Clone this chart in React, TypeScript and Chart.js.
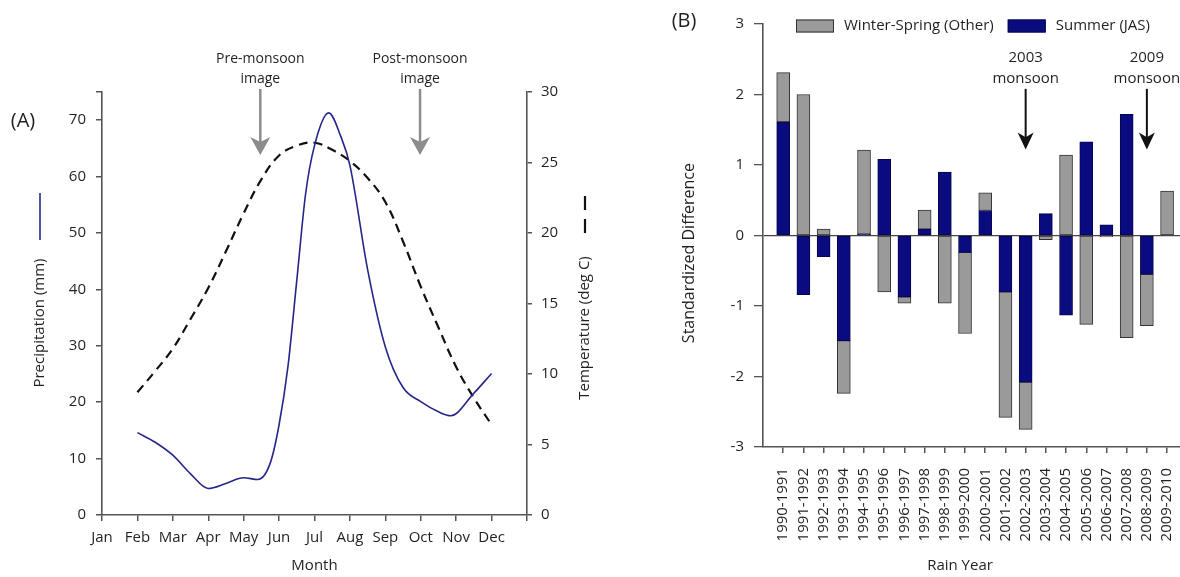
import React, { useEffect, useRef } from 'react';
import { Chart, registerables } from 'chart.js';

Chart.register(...registerables);

// ---------- Panel A data ----------
const MONTHS = ['Jan', 'Feb', 'Mar', 'Apr', 'May', 'Jun', 'Jul', 'Aug', 'Sep', 'Oct', 'Nov', 'Dec'];
// month position (0 = Jan) and precipitation (mm)
const PRECIP_MONTH = [1, 1.5, 2, 2.5, 3, 3.5, 4, 4.4, 4.75, 5, 5.25, 5.5, 5.75, 6, 6.4, 6.75, 7, 7.5, 8, 8.5, 9, 9.5, 9.85, 10.5, 11];
const PRECIP_MM = [14.6, 12.9, 10.6, 7.3, 4.7, 5.6, 6.6, 6.3, 9.2, 16, 26.3, 41.6, 57, 65.5, 71.3, 67, 62, 43.5, 29.8, 22.6, 20.1, 18.3, 17.6, 21.6, 25.1];
// month position and temperature (deg C)
const TEMP_MONTH = [1, 1.5, 2, 2.5, 3, 3.5, 4, 4.5, 5, 5.5, 6, 6.5, 7, 7.5, 8, 8.5, 9, 9.5, 10, 10.5, 11];
const TEMP_C = [8.7, 10.2, 11.8, 13.9, 16.1, 18.7, 21.4, 23.8, 25.5, 26.2, 26.4, 25.9, 25.1, 23.9, 22.2, 19.4, 16.2, 13.3, 10.5, 8.3, 6.4];
const PRECIP_TICKS_MAX = 75;
const TEMP_TICKS_MAX = 30;
const PRECIP_TITLE = 'Precipitation (mm)';
const TEMP_TITLE = 'Temperature (deg C)';
const MONTH_TITLE = 'Month';
const IMAGE_MARKERS = [
  { month: 4.47, lines: ['Pre-monsoon', 'image'] },
  { month: 8.98, lines: ['Post-monsoon', 'image'] },
];

// ---------- Panel B data ----------
const RAIN_YEARS = [
  '1990-1991', '1991-1992', '1992-1993', '1993-1994', '1994-1995', '1995-1996', '1996-1997',
  '1997-1998', '1998-1999', '1999-2000', '2000-2001', '2001-2002', '2002-2003', '2003-2004',
  '2004-2005', '2005-2006', '2006-2007', '2007-2008', '2008-2009', '2009-2010',
];
const SUMMER_JAS = [1.61, -0.84, -0.30, -1.49, 0.02, 1.08, -0.87, 0.09, 0.90, -0.24, 0.355, -0.80, -2.08, 0.31, -1.13, 1.33, 0.15, 1.72, -0.55, 0];
const WINTER_SPRING = [0.70, 2.00, 0.09, -0.75, 1.19, -0.80, -0.09, 0.27, -0.96, -1.15, 0.25, -1.78, -0.67, -0.06, 1.14, -1.26, -0.02, -1.45, -0.73, 0.63];
const SUMMER_LABEL = 'Summer (JAS)';
const WINTER_LABEL = 'Winter-Spring (Other)';
const STD_TITLE = 'Standardized Difference';
const YEAR_TITLE = 'Rain Year';
const MONSOON_MARKERS = [
  { index: 12, lines: ['2003', 'monsoon'] },
  { index: 18, lines: ['2009', 'monsoon'] },
];

// ---------- styles ----------
const FONT = '"Open Sans", "Noto Sans", sans-serif';
const TEXT = '#231f20';
const AXIS = '#555555';
const NAVY_LINE = '#26268a';
const NAVY_BAR = '#0b0b80';
const GREY_BAR = '#9a9a9a';

Chart.defaults.font.family = FONT;

function drawArrow(ctx: any, x: number, y0: number, y1: number, color: string, w: number, half: number, len: number) {
  ctx.save();
  ctx.strokeStyle = color;
  ctx.fillStyle = color;
  ctx.lineWidth = w;
  ctx.beginPath();
  ctx.moveTo(x, y0);
  ctx.lineTo(x, y1 - len * 0.6);
  ctx.stroke();
  ctx.beginPath();
  ctx.moveTo(x - half, y1 - len);
  ctx.lineTo(x, y1 - len * 0.72);
  ctx.lineTo(x + half, y1 - len);
  ctx.lineTo(x, y1);
  ctx.closePath();
  ctx.fill();
  ctx.restore();
}

function rotatedText(ctx: any, text: string, x: number, y: number) {
  ctx.save();
  ctx.translate(x, y);
  ctx.rotate(-Math.PI / 2);
  ctx.fillText(text, 0, 0);
  ctx.restore();
}

const zeroPad = (s: any) => {
  s.paddingLeft = 0;
  s.paddingRight = 0;
  s.paddingTop = 0;
  s.paddingBottom = 0;
};

const decorA = {
  id: 'decorA',
  afterDraw(chart: any) {
    const { ctx, scales } = chart;
    const x = scales.x;
    const yP = scales.yP;
    ctx.save();
    ctx.fillStyle = TEXT;
    ctx.textAlign = 'center';
    ctx.textBaseline = 'middle';
    ctx.font = `20px ${FONT}`;
    ctx.fillText('(A)', 23, yP.getPixelForValue(70) + 1);

    ctx.font = `15px ${FONT}`;
    rotatedText(ctx, PRECIP_TITLE, 40, 323);
    ctx.strokeStyle = NAVY_LINE;
    ctx.lineWidth = 1.6;
    ctx.beginPath();
    ctx.moveTo(40, 240);
    ctx.lineTo(40, 193);
    ctx.stroke();

    rotatedText(ctx, TEMP_TITLE, 585, 328);
    ctx.strokeStyle = '#111';
    ctx.lineWidth = 2.2;
    ctx.setLineDash([14, 9]);
    ctx.beginPath();
    ctx.moveTo(585, 233);
    ctx.lineTo(585, 195);
    ctx.stroke();
    ctx.setLineDash([]);

    ctx.textAlign = 'center';
    ctx.textBaseline = 'middle';
    ctx.font = `14px ${FONT}`;
    for (const m of IMAGE_MARKERS) {
      const px = x.getPixelForValue(m.month);
      ctx.fillStyle = TEXT;
      ctx.fillText(m.lines[0], px, 59);
      ctx.fillText(m.lines[1], px, 79);
      drawArrow(ctx, px, 89, 155, '#8c8c8c', 2.5, 10, 18);
    }
    ctx.restore();
  },
};

const decorB = {
  id: 'decorB',
  afterDraw(chart: any) {
    const { ctx, scales, data } = chart;
    const x = scales.x;
    const y = scales.y;
    ctx.save();
    ctx.fillStyle = TEXT;
    ctx.textAlign = 'center';
    ctx.textBaseline = 'middle';
    ctx.font = `20px ${FONT}`;
    ctx.fillText('(B)', 64, 21);

    ctx.font = `16px ${FONT}`;
    rotatedText(ctx, STD_TITLE, 69, y.getPixelForValue(-0.25));
    ctx.font = `15px ${FONT}`;
    ctx.fillText(YEAR_TITLE, 340, 566);

    // legend: winter-spring first, then summer
    const order = [1, 0];
    let lx = 176;
    const ly = 26;
    ctx.font = `15px ${FONT}`;
    ctx.textAlign = 'left';
    for (const i of order) {
      const ds = data.datasets[i];
      ctx.fillStyle = ds.backgroundColor;
      ctx.fillRect(lx, ly - 6.5, 38, 13);
      ctx.strokeStyle = ds.borderColor;
      ctx.lineWidth = 1;
      ctx.strokeRect(lx + 0.5, ly - 6, 37, 12);
      ctx.fillStyle = TEXT;
      ctx.fillText(ds.label, lx + 48, ly);
      lx += 48 + ctx.measureText(ds.label).width + 14;
    }

    ctx.textAlign = 'center';
    ctx.font = `15px ${FONT}`;
    for (const m of MONSOON_MARKERS) {
      const px = x.getPixelForValue(m.index);
      ctx.fillStyle = TEXT;
      ctx.fillText(m.lines[0], px, y.getPixelForValue(2.52));
      ctx.fillText(m.lines[1], px, y.getPixelForValue(2.22));
      drawArrow(ctx, px, y.getPixelForValue(2.08), y.getPixelForValue(1.22), '#111', 2, 8, 17);
    }
    ctx.restore();
  },
};

function makeA(canvas: HTMLCanvasElement) {
  const tickFont = { family: FONT, size: 15 };
  return new Chart(canvas, {
    type: 'line',
    data: {
      datasets: [
        {
          label: PRECIP_TITLE,
          data: PRECIP_MONTH.map((m, i) => ({ x: m, y: PRECIP_MM[i] })),
          yAxisID: 'yP',
          borderColor: NAVY_LINE,
          borderWidth: 1.6,
          pointRadius: 0,
          cubicInterpolationMode: 'monotone',
          fill: false,
        },
        {
          label: TEMP_TITLE,
          data: TEMP_MONTH.map((m, i) => ({ x: m, y: TEMP_C[i] })),
          yAxisID: 'yT',
          borderColor: '#111111',
          borderWidth: 2.2,
          borderDash: [9, 6],
          pointRadius: 0,
          tension: 0.4,
          fill: false,
        },
      ],
    } as any,
    options: {
      responsive: false,
      animation: false,
      layout: { padding: { top: 92, left: 0, right: 0, bottom: 0 } },
      plugins: { legend: { display: false }, tooltip: { enabled: false } },
      scales: {
        x: {
          type: 'linear',
          min: 0,
          max: 12,
          ticks: {
            stepSize: 1,
            autoSkip: false,
            maxRotation: 0,
            minRotation: 0,
            padding: 8,
            color: TEXT,
            font: tickFont,
            callback: (v: any) => MONTHS[v] ?? '',
          },
          grid: { drawOnChartArea: false, tickLength: 6, color: AXIS, lineWidth: 1.5 },
          border: { color: AXIS, width: 1.6 },
          title: { display: true, text: MONTH_TITLE, color: TEXT, font: { family: FONT, size: 15 }, padding: { top: 0, bottom: 2 } },
          afterFit: (s: any) => { s.height = 62; zeroPad(s); },
        },
        yP: {
          type: 'linear',
          position: 'left',
          min: 0,
          max: PRECIP_TICKS_MAX,
          ticks: {
            stepSize: 10,
            padding: 10,
            color: TEXT,
            font: tickFont,
            callback: (v: any) => (v === PRECIP_TICKS_MAX ? '' : String(v)),
          },
          grid: { drawOnChartArea: false, tickLength: 6, color: AXIS, lineWidth: 1.5 },
          border: { color: AXIS, width: 1.6 },
          afterFit: (s: any) => { s.width = 102; zeroPad(s); },
        },
        yT: {
          type: 'linear',
          position: 'right',
          min: 0,
          max: TEMP_TICKS_MAX,
          ticks: { stepSize: 5, padding: 9, color: TEXT, font: tickFont, callback: (v: any) => String(v) },
          grid: { drawOnChartArea: false, tickLength: 5, color: AXIS, lineWidth: 1.5 },
          border: { color: AXIS, width: 1.6 },
          afterFit: (s: any) => { s.width = 93; zeroPad(s); },
        },
      },
    } as any,
    plugins: [decorA],
  });
}

function makeB(canvas: HTMLCanvasElement) {
  const tickFont = { family: FONT, size: 15 };
  return new Chart(canvas, {
    type: 'bar',
    data: {
      datasets: [
        {
          label: SUMMER_LABEL,
          data: RAIN_YEARS.map((_, i) => ({ x: i, y: SUMMER_JAS[i] })),
          backgroundColor: NAVY_BAR,
          borderColor: '#06064f',
          borderWidth: 1,
          borderSkipped: false,
          barThickness: 13,
        },
        {
          label: WINTER_LABEL,
          data: RAIN_YEARS.map((_, i) => ({ x: i, y: WINTER_SPRING[i] })),
          backgroundColor: GREY_BAR,
          borderColor: '#333333',
          borderWidth: 1,
          borderSkipped: false,
          barThickness: 13,
        },
      ],
    } as any,
    options: {
      responsive: false,
      animation: false,
      layout: { padding: { top: 24, left: 0, right: 0, bottom: 0 } },
      plugins: { legend: { display: false }, tooltip: { enabled: false } },
      scales: {
        x: {
          type: 'linear',
          min: -1,
          max: 19.64,
          offset: false,
          stacked: true,
          afterBuildTicks: (s: any) => { s.ticks = RAIN_YEARS.map((_, i) => ({ value: i })); },
          ticks: {
            autoSkip: false,
            maxRotation: 90,
            minRotation: 90,
            padding: 15,
            color: TEXT,
            font: tickFont,
            callback: (v: any) => RAIN_YEARS[v] ?? '',
          },
          grid: { offset: false, drawOnChartArea: false, tickLength: 6, color: AXIS, lineWidth: 1.5 },
          border: { color: AXIS, width: 1.6 },
          afterFit: (s: any) => { s.height = 130; zeroPad(s); },
        },
        y: {
          type: 'linear',
          min: -3,
          max: 3,
          stacked: true,
          ticks: { stepSize: 1, padding: 10, color: TEXT, font: tickFont, callback: (v: any) => String(v) },
          grid: {
            color: (c: any) => (c.tick && c.tick.value === 0 ? '#444444' : 'rgba(0,0,0,0)'),
            tickColor: AXIS,
            tickLength: 9,
            lineWidth: 1.3,
          },
          border: { color: AXIS, width: 1.6 },
          afterFit: (s: any) => { s.width = 143; zeroPad(s); },
        },
      },
    } as any,
    plugins: [decorB],
  });
}

export default function App() {
  const refA = useRef<HTMLCanvasElement>(null);
  const refB = useRef<HTMLCanvasElement>(null);
  useEffect(() => {
    const a = makeA(refA.current!);
    const b = makeB(refB.current!);
    return () => {
      a.destroy();
      b.destroy();
    };
  }, []);
  return (
    <div style={{ position: 'fixed', left: 0, top: 0, width: 1180, height: 577, background: '#ffffff', overflow: 'hidden' }}>
      <canvas ref={refA} width={620} height={577} style={{ position: 'absolute', left: 0, top: 0 }} />
      <canvas ref={refB} width={560} height={577} style={{ position: 'absolute', left: 620, top: 0 }} />
    </div>
  );
}
